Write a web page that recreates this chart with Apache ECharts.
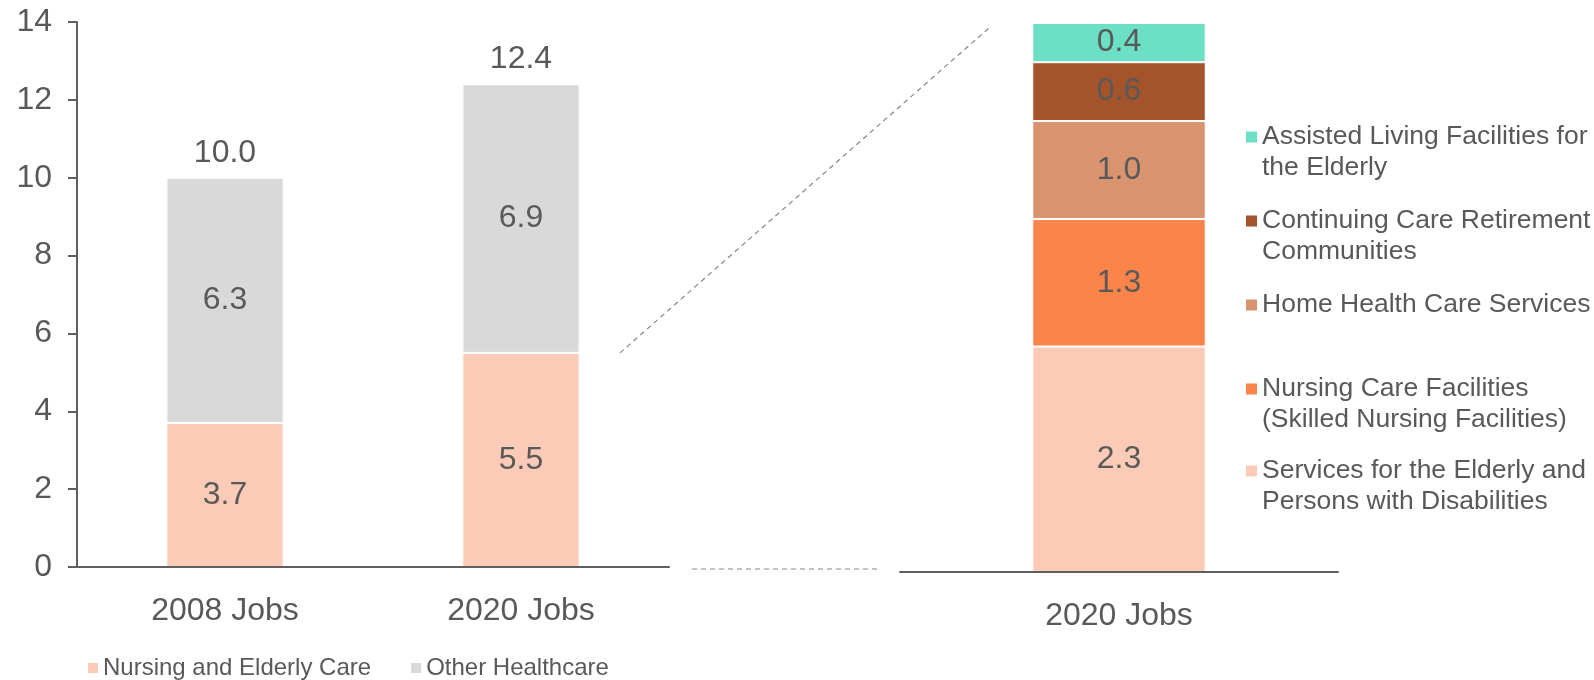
<!DOCTYPE html>
<html>
<head>
<meta charset="utf-8">
<script src="https://cdn.jsdelivr.net/npm/echarts@6/dist/echarts.min.js"></script>
<style>
  html, body { margin: 0; padding: 0; background: #ffffff; }
  #chart { width: 1594px; height: 680px; }
</style>
</head>
<body>
<div id="chart"></div>
<script>
// Healthcare jobs (millions): overview of 2008 vs 2020
const overviewCategories = ['2008 Jobs', '2020 Jobs'];
const nursingElderly = [3.7, 5.5];
const otherHealthcare = [6.3, 6.9];
const overviewTotals = [10.0, 12.4];

// Breakdown of 2020 nursing and elderly care jobs (bottom to top of the stack)
const breakdownCategory = ['2020 Jobs'];
const breakdownNames = [
  'Services for the Elderly and\nPersons with Disabilities',
  'Nursing Care Facilities\n(Skilled Nursing Facilities)',
  'Home Health Care Services',
  'Continuing Care Retirement\nCommunities',
  'Assisted Living Facilities for\nthe Elderly'
];
const breakdownValues = [2.3, 1.3, 1.0, 0.6, 0.4];

const overviewColors = ['#FBCBB7', '#D9D9D9'];
const breakdownColors = ['#FBCBB7', '#FB844B', '#D9946F', '#A5532B', '#6BE0C5'];

const FONT = '"Liberation Sans", Arial, sans-serif';
const TEXT = '#595959';
const AXIS = '#5f5f5f';

// vertical centre of each legend marker in the breakdown legend
const breakdownLegendCenters = [471, 389, 305, 221, 137];
const LEGEND_LINE = 31;

const chart = echarts.init(document.getElementById('chart'), null, { renderer: 'canvas' });

const valueLabel = {
  show: true,
  position: 'inside',
  fontSize: 32,
  fontFamily: FONT,
  color: TEXT,
  formatter: p => Number(p.value).toFixed(1)
};

const series = [
  {
    name: 'Nursing and Elderly Care', type: 'bar', stack: 'overview',
    xAxisIndex: 0, yAxisIndex: 0, data: nursingElderly,
    barWidth: '39.6%', barGap: '-100%',
    itemStyle: { color: overviewColors[0], borderColor: '#ffffff', borderWidth: 1 },
    label: valueLabel, silent: true
  },
  {
    name: 'Other Healthcare', type: 'bar', stack: 'overview',
    xAxisIndex: 0, yAxisIndex: 0, data: otherHealthcare,
    barWidth: '39.6%', barGap: '-100%',
    itemStyle: { color: overviewColors[1], borderColor: '#ffffff', borderWidth: 1 },
    label: valueLabel, silent: true
  },
  {
    name: 'Total', type: 'bar',
    xAxisIndex: 0, yAxisIndex: 0, data: overviewTotals,
    barWidth: '39.6%', barGap: '-100%', z: 1,
    itemStyle: { color: 'rgba(0,0,0,0)' },
    label: {
      show: true, position: 'top', distance: 9,
      fontSize: 32, fontFamily: FONT, color: TEXT,
      formatter: p => Number(p.value).toFixed(1)
    },
    silent: true
  }
];

breakdownNames.forEach((name, i) => {
  series.push({
    name: name, type: 'bar', stack: 'breakdown',
    xAxisIndex: 1, yAxisIndex: 1, data: [breakdownValues[i]],
    barWidth: '39.6%',
    itemStyle: { color: breakdownColors[i], borderColor: '#ffffff', borderWidth: 1 },
    label: valueLabel, silent: true
  });
});

// one legend block per breakdown entry; a leading blank line keeps the
// marker level with the first line of a two-line name
const breakdownLegends = breakdownNames.map((name, i) => {
  const twoLines = name.indexOf('\n') >= 0;
  return {
    data: [name],
    orient: 'vertical',
    left: 1246,
    top: breakdownLegendCenters[i] - (twoLines ? 1.5 : 0.5) * LEGEND_LINE,
    padding: 0,
    selectedMode: false,
    icon: 'rect',
    itemWidth: 11,
    itemHeight: 11,
    itemStyle: { borderWidth: 0 },
    formatter: n => (n.indexOf('\n') >= 0 ? '\n' + n : n),
    textStyle: { fontSize: 26.5, fontFamily: FONT, color: TEXT, lineHeight: LEGEND_LINE }
  };
});

const option = {
  backgroundColor: '#ffffff',
  animation: false,
  textStyle: { fontFamily: FONT },
  grid: [
    { left: 77, top: 22, width: 592, height: 545, containLabel: false },
    { left: 900, top: 23, width: 438, height: 549, containLabel: false }
  ],
  xAxis: [
    {
      type: 'category', gridIndex: 0, data: overviewCategories, z: 3,
      axisLine: { show: true, lineStyle: { color: AXIS, width: 2 } },
      axisTick: { show: false },
      axisLabel: { fontSize: 32, fontFamily: FONT, color: TEXT, margin: 28 }
    },
    {
      type: 'category', gridIndex: 1, data: breakdownCategory, z: 3,
      axisLine: { show: true, lineStyle: { color: AXIS, width: 2 } },
      axisTick: { show: false },
      axisLabel: { fontSize: 32, fontFamily: FONT, color: TEXT, margin: 28 }
    }
  ],
  yAxis: [
    {
      type: 'value', gridIndex: 0, min: 0, max: 14, interval: 2, z: 3,
      axisLine: { show: true, lineStyle: { color: AXIS, width: 2 } },
      axisTick: { show: true, length: 9, lineStyle: { color: AXIS, width: 2 } },
      splitLine: { show: false },
      axisLabel: { fontSize: 32, fontFamily: FONT, color: TEXT, margin: 25 }
    },
    {
      type: 'value', gridIndex: 1, min: 0, max: 5.6, show: false,
      splitLine: { show: false }
    }
  ],
  legend: [
    {
      data: ['Nursing and Elderly Care', 'Other Healthcare'],
      orient: 'horizontal',
      left: 88, top: 656, padding: 0,
      selectedMode: false,
      icon: 'rect', itemWidth: 10, itemHeight: 10, itemGap: 40,
      itemStyle: { borderWidth: 0 },
      textStyle: { fontSize: 24, fontFamily: FONT, color: TEXT }
    }
  ].concat(breakdownLegends),
  series: series
};

chart.setOption(option);

// dashed connectors from the 2020 nursing/elderly segment to the breakdown bar
const startY = chart.convertToPixel({ gridIndex: 0 }, [overviewCategories[1], nursingElderly[1]])[1];
const baseY = chart.convertToPixel({ gridIndex: 0 }, [overviewCategories[1], 0])[1];
const dashStyle = { stroke: '#888888', lineWidth: 1.2, lineDash: [5, 4] };
chart.setOption({
  graphic: [
    { type: 'line', silent: true, shape: { x1: 620, y1: startY, x2: 989, y2: 28 }, style: dashStyle },
    { type: 'line', silent: true, shape: { x1: 692, y1: baseY + 2, x2: 878, y2: baseY + 2 }, style: dashStyle }
  ]
});
</script>
</body>
</html>
